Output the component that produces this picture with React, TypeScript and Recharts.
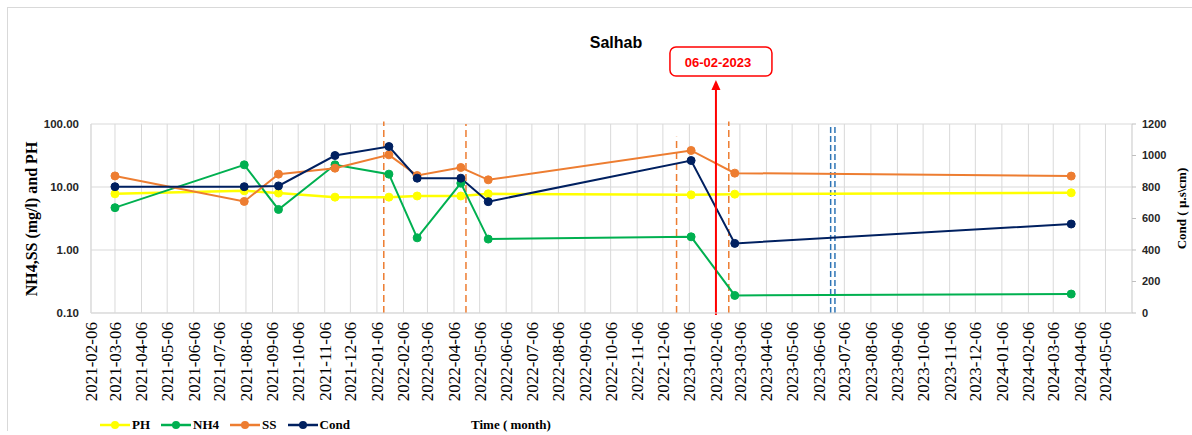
import React from 'react';
import { LineChart, Line, XAxis, YAxis, CartesianGrid, ReferenceLine, Legend } from 'recharts';

const sampleDates = [
  '2021-03-06', '2021-08-04', '2021-09-13', '2021-11-18', '2022-01-20', '2022-02-22',
  '2022-04-14', '2022-05-16', '2023-01-08', '2023-02-28', '2024-03-27',
];
const phValues = [7.8, 8.7, 8.0, 6.9, 6.9, 7.2, 7.2, 7.8, 7.5, 7.7, 8.1];
const nh4Values = [4.7, 22.5, 4.4, 22.5, 16.0, 1.56, 11.5, 1.49, 1.62, 0.19, 0.2];
const ssValues = [15.0, 5.9, 16.0, 19.9, 32.4, 15.2, 20.4, 13.0, 38.0, 16.6, 14.9];
const condValues = [802, 802, 807, 1000, 1057, 856, 856, 707, 968, 442, 565];

const monthTicks = [
  '2021-02-06', '2021-03-06', '2021-04-06', '2021-05-06', '2021-06-06', '2021-07-06',
  '2021-08-06', '2021-09-06', '2021-10-06', '2021-11-06', '2021-12-06', '2022-01-06',
  '2022-02-06', '2022-03-06', '2022-04-06', '2022-05-06', '2022-06-06', '2022-07-06',
  '2022-08-06', '2022-09-06', '2022-10-06', '2022-11-06', '2022-12-06', '2023-01-06',
  '2023-02-06', '2023-03-06', '2023-04-06', '2023-05-06', '2023-06-06', '2023-07-06',
  '2023-08-06', '2023-09-06', '2023-10-06', '2023-11-06', '2023-12-06', '2024-01-06',
  '2024-02-06', '2024-03-06', '2024-04-06', '2024-05-06',
];
const axisStart = '2021-02-06';
const axisEnd = '2024-06-06';

const leftTicks = [0.1, 1, 10, 100];
const rightTicks = [0, 200, 400, 600, 800, 1000, 1200];

// event marker and dashed guide lines
const eventDate = '2023-02-06';
const eventLabel = '06-02-2023';
const orangeGuideDates = ['2022-01-14', '2022-04-20', '2022-12-22', '2023-02-21'];
const orangeGuideTops = [110, 100, 63, 110];
const blueGuideDates = ['2023-06-20', '2023-06-25'];
const blueGuideTop = 92;

const toTime = (s: string) => Date.parse(s + 'T00:00:00Z');
const fmtDate = (v: number) => new Date(v).toISOString().slice(0, 10);

const data = sampleDates.map((d, i) => ({
  t: toTime(d),
  ph: phValues[i],
  nh4: nh4Values[i],
  ss: ssValues[i],
  cond: condValues[i],
}));

const series = [
  { key: 'ph', name: 'PH', color: '#FFFF00', axis: 'left', width: 2.5 },
  { key: 'nh4', name: 'NH4', color: '#00B050', axis: 'left', width: 2 },
  { key: 'ss', name: 'SS', color: '#ED7D31', axis: 'left', width: 2 },
  { key: 'cond', name: 'Cond', color: '#002060', axis: 'right', width: 2 },
];

const SERIF = '"Liberation Serif", "Times New Roman", serif';
const SANS = '"Liberation Sans", Arial, sans-serif';
const GRID = '#D9D9D9';

const DateTick = (props: any) => {
  const { x, y, payload } = props;
  return (
    <g transform={`translate(${x},${y}) rotate(-90)`}>
      <text textAnchor="end" dy="0.35em" fontFamily={SERIF} fontSize={17} fill="#000">
        {fmtDate(payload.value)}
      </text>
    </g>
  );
};

const leftTitle = (props: any) => {
  const { x, y, height } = props.viewBox;
  const cx = x + 31.5;
  const cy = y + height / 2 + 0.5;
  return (
    <text x={cx} y={cy} transform={`rotate(-90 ${cx} ${cy})`} textAnchor="middle" dominantBaseline="central"
      fontFamily={SERIF} fontWeight="bold" fontSize={16} fill="#000">
      NH4,SS (mg/l) and PH
    </text>
  );
};

const rightTitle = (props: any) => {
  const { x, y, height } = props.viewBox;
  const cx = x + 49.5;
  const cy = y + height / 2 - 10;
  return (
    <text x={cx} y={cy} transform={`rotate(-90 ${cx} ${cy})`} textAnchor="middle" dominantBaseline="central"
      fontFamily={SERIF} fontWeight="bold" fontSize={13} fill="#000">
      {'Cond ( \u00b5.s\\cm)'}
    </text>
  );
};

const EventArrow = (props: any) => {
  const { x1, y1, y2 } = props;
  const x = x1;
  const bottom = Math.max(y1, y2) + 2;
  const tip = Math.min(y1, y2) - 44;
  return (
    <g>
      <line x1={x} y1={bottom} x2={x} y2={tip + 8} stroke="#FF0000" strokeWidth={2} />
      <polygon points={`${x},${tip} ${x - 4.5},${tip + 10} ${x + 4.5},${tip + 10}`} fill="#FF0000" />
      <rect x={x - 46} y={tip - 33} width={102} height={29} rx={6} fill="#fff" stroke="#FF0000" strokeWidth={1.5} />
      <text x={x + 2} y={tip - 17.5} textAnchor="middle" dominantBaseline="central" fill="#FF0000"
        fontFamily={SANS} fontWeight="bold" fontSize={13}>
        {eventLabel}
      </text>
    </g>
  );
};

const renderLegend = () => (
  <div style={{ position: 'relative', width: 600, height: 20, fontFamily: SERIF, fontWeight: 'bold', fontSize: 13, color: '#000' }}>
    <div style={{ position: 'absolute', left: 100, top: 0, height: 20, display: 'flex', alignItems: 'center', gap: 11 }}>
      {series.map((s) => (
        <div key={s.key} style={{ display: 'flex', alignItems: 'center' }}>
          <svg width={30} height={10}>
            <line x1={0} y1={5} x2={30} y2={5} stroke={s.color} strokeWidth={2.5} />
            <circle cx={15} cy={5} r={4} fill={s.color} />
          </svg>
          <span style={{ marginLeft: 2 }}>{s.name}</span>
        </div>
      ))}
    </div>
    <div style={{ position: 'absolute', left: 471, top: 0, lineHeight: '20px' }}>Time ( month)</div>
  </div>
);

export default function App() {
  return (
    <div style={{ position: 'absolute', left: 0, top: 0, width: 1192, height: 435, background: '#fff', overflow: 'hidden' }}>
      <div style={{ position: 'absolute', left: 7, top: 7, width: 1200, height: 423, borderLeft: `1px solid ${GRID}`, borderTop: `1px solid ${GRID}` }} />
      <div style={{ position: 'absolute', left: 616, top: 43, transform: 'translate(-50%, -50%)', fontFamily: SANS, fontWeight: 'bold', fontSize: 16, color: '#000', whiteSpace: 'nowrap' }}>
        Salhab
      </div>
      <LineChart width={1192} height={435} data={data} margin={{ top: 124, right: 0, bottom: 0, left: 0 }}>
        <CartesianGrid yAxisId="left" stroke={GRID} strokeWidth={1} />
        <XAxis
          dataKey="t"
          type="number"
          domain={[toTime(axisStart), toTime(axisEnd)]}
          allowDataOverflow
          ticks={monthTicks.map(toTime)}
          interval={0}
          height={122}
          tick={<DateTick />}
          tickLine={false}
          tickSize={0}
          tickMargin={9}
          axisLine={{ stroke: GRID }}
        />
        <YAxis
          yAxisId="left"
          scale="log"
          domain={[0.1, 100]}
          allowDataOverflow
          ticks={leftTicks}
          tickFormatter={(v: number) => v.toFixed(2)}
          width={91}
          tickLine={false}
          tickSize={0}
          tickMargin={12}
          axisLine={{ stroke: GRID }}
          tick={{ fill: '#262626', fontSize: 11.5, fontWeight: 'bold', fontFamily: SANS }}
          label={{ content: leftTitle }}
        />
        <YAxis
          yAxisId="right"
          orientation="right"
          domain={[0, 1200]}
          ticks={rightTicks}
          width={60}
          tickSize={4}
          tickMargin={6}
          tickLine={{ stroke: '#BFBFBF' }}
          axisLine={{ stroke: GRID }}
          tick={{ fill: '#262626', fontSize: 11, fontWeight: 'bold', fontFamily: SANS, textAnchor: 'start' }}
          label={{ content: rightTitle }}
        />
        {orangeGuideDates.map((d, i) => (
          <ReferenceLine
            key={d}
            yAxisId="left"
            ifOverflow="visible"
            segment={[{ x: toTime(d), y: 0.1 }, { x: toTime(d), y: orangeGuideTops[i] }]}
            stroke="#ED7D31"
            strokeWidth={1.5}
            strokeDasharray="7 4"
          />
        ))}
        {blueGuideDates.map((d) => (
          <ReferenceLine
            key={d}
            yAxisId="left"
            ifOverflow="visible"
            segment={[{ x: toTime(d), y: 0.1 }, { x: toTime(d), y: blueGuideTop }]}
            stroke="#2E75B6"
            strokeWidth={1.5}
            strokeDasharray="6 3"
          />
        ))}
        {series.map((s) => (
          <Line
            key={s.key}
            yAxisId={s.axis}
            dataKey={s.key}
            name={s.name}
            type="linear"
            stroke={s.color}
            strokeWidth={s.width}
            dot={{ r: 4, fill: s.color, stroke: s.color, strokeWidth: 1 }}
            activeDot={false}
            isAnimationActive={false}
          />
        ))}
        <ReferenceLine
          yAxisId="left"
          ifOverflow="visible"
          segment={[{ x: toTime(eventDate), y: 0.1 }, { x: toTime(eventDate), y: 100 }]}
          shape={<EventArrow />}
        />
        <Legend
          content={renderLegend}
          layout="vertical"
          align="center"
          verticalAlign="middle"
          wrapperStyle={{ left: 0, top: 415, width: 600, height: 20 }}
        />
      </LineChart>
    </div>
  );
}
